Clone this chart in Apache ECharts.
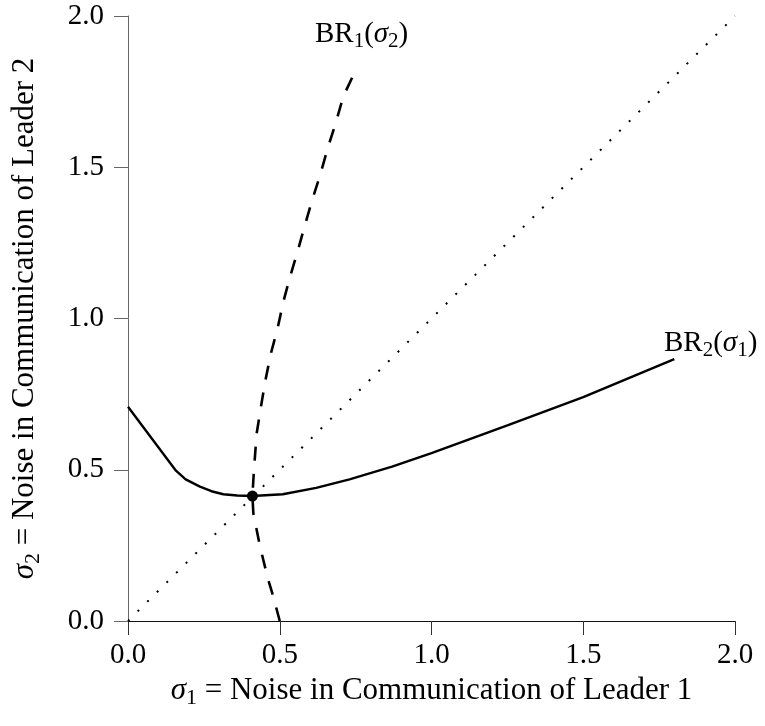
<!DOCTYPE html>
<html>
<head>
<meta charset="utf-8">
<script src="https://cdn.jsdelivr.net/npm/echarts@6/dist/echarts.min.js"></script>
<style>
html,body{margin:0;padding:0;background:#fff;}
#chart{width:765px;height:726px;}
</style>
</head>
<body>
<div id="chart"></div>
<script>
// ---- data ----
var xTicks = [0.0, 0.5, 1.0, 1.5, 2.0];
var yTicks = [0.0, 0.5, 1.0, 1.5, 2.0];
// BR2(sigma1): solid curve
var br2X = [0, 0.158, 0.19, 0.237, 0.275, 0.314, 0.36, 0.41, 0.51, 0.62, 0.73, 0.87, 1.0, 1.25, 1.5, 1.8];
var br2Y = [0.708, 0.497, 0.468, 0.444, 0.429, 0.419, 0.415, 0.413, 0.419, 0.44, 0.468, 0.51, 0.555, 0.647, 0.74, 0.866];
// BR1(sigma2): dashed curve (x as function of y)
var br1Y = [0, 0.08, 0.136, 0.246, 0.356, 0.413, 0.5, 0.62, 0.708, 0.797, 0.885, 0.968, 1.056, 1.138, 1.226, 1.309, 1.392, 1.474, 1.563, 1.645, 1.733, 1.808];
var br1X = [0.5, 0.479, 0.462, 0.435, 0.413, 0.41, 0.415, 0.424, 0.438, 0.453, 0.471, 0.493, 0.512, 0.534, 0.56, 0.583, 0.607, 0.633, 0.658, 0.684, 0.709, 0.744];
// 45-degree line
var diagX = [0, 2];
var diagY = [0, 2];
// equilibrium
var eqX = [0.41];
var eqY = [0.413];

function zip(a, b) { return a.map(function (v, i) { return [v, b[i]]; }); }

var FONT = 'Liberation Serif';
var chart = echarts.init(document.getElementById('chart'), null, {renderer: 'canvas'});

function richSet(big, small, lh) {
  return {
    m: {fontFamily: FONT, fontSize: big, color: '#000', lineHeight: lh, verticalAlign: 'middle', textBorderWidth: 0},
    i: {fontFamily: FONT, fontSize: big, color: '#000', fontStyle: 'italic', lineHeight: lh, verticalAlign: 'middle', textBorderWidth: 0},
    s: {fontFamily: FONT, fontSize: small, color: '#000', lineHeight: lh, verticalAlign: 'bottom', textBorderWidth: 0}
  };
}
var nameRich = richSet(31, 22, 38);
var labelRich = richSet(29, 21, 36);

var option = {
  animation: false,
  backgroundColor: '#fff',
  grid: {left: 128, right: 30, top: 16, bottom: 105, containLabel: false},
  xAxis: {
    type: 'value', min: 0, max: 2, interval: 0.5,
    name: '{i|σ}{s|1}{m| = Noise in Communication of Leader 1}',
    nameLocation: 'middle', nameGap: 42,
    nameTextStyle: {rich: nameRich},
    axisLine: {show: true, onZero: false, lineStyle: {color: '#111', width: 1}},
    axisTick: {show: true, length: 14, lineStyle: {color: '#333', width: 1}},
    axisLabel: {margin: 20, fontFamily: FONT, fontSize: 29, color: '#000',
      formatter: function (v) { return v.toFixed(1); }},
    splitLine: {show: false}
  },
  yAxis: {
    type: 'value', min: 0, max: 2, interval: 0.5,
    name: '{i|σ}{s|2}{m| = Noise in Communication of Leader 2}',
    nameLocation: 'middle', nameGap: 84, nameRotate: 90,
    nameTextStyle: {rich: nameRich},
    axisLine: {show: true, onZero: false, lineStyle: {color: '#666', width: 1}},
    axisTick: {show: true, length: 14, lineStyle: {color: '#666', width: 1}},
    axisLabel: {margin: 24, fontFamily: FONT, fontSize: 29, color: '#000',
      formatter: function (v) { return v.toFixed(1); }},
    splitLine: {show: false}
  },
  series: [
    {
      type: 'line', data: zip(diagX, diagY), symbol: 'none', silent: true,
      lineStyle: {color: '#000', width: 2, type: [2, 11.6], cap: 'butt'}
    },
    {
      type: 'line', data: zip(br1X, br1Y), symbol: 'none', silent: true,
      lineStyle: {color: '#000', width: 2.6, type: [14, 13.3], cap: 'butt'}
    },
    {
      type: 'line', data: zip(br2X, br2Y), symbol: 'none', silent: true,
      lineStyle: {color: '#000', width: 2.4}
    },
    {
      type: 'scatter', data: zip(eqX, eqY), symbol: 'circle', symbolSize: 11,
      itemStyle: {color: '#000', opacity: 1}, silent: true
    },
    {
      type: 'scatter', symbolSize: 0, silent: true,
      itemStyle: {color: '#000', opacity: 1},
      data: [
        {value: [0.616, 1.94], label: {formatter: '{m|BR}{s|1}{m|(}{i|σ}{s|2}{m|)}'}},
        {value: [1.766, 0.919], label: {formatter: '{m|BR}{s|2}{m|(}{i|σ}{s|1}{m|)}'}}
      ],
      label: {show: true, position: 'inside', align: 'left', verticalAlign: 'middle',
        color: '#000', opacity: 1, textBorderWidth: 0, rich: labelRich}
    }
  ]
};
chart.setOption(option);
</script>
</body>
</html>
